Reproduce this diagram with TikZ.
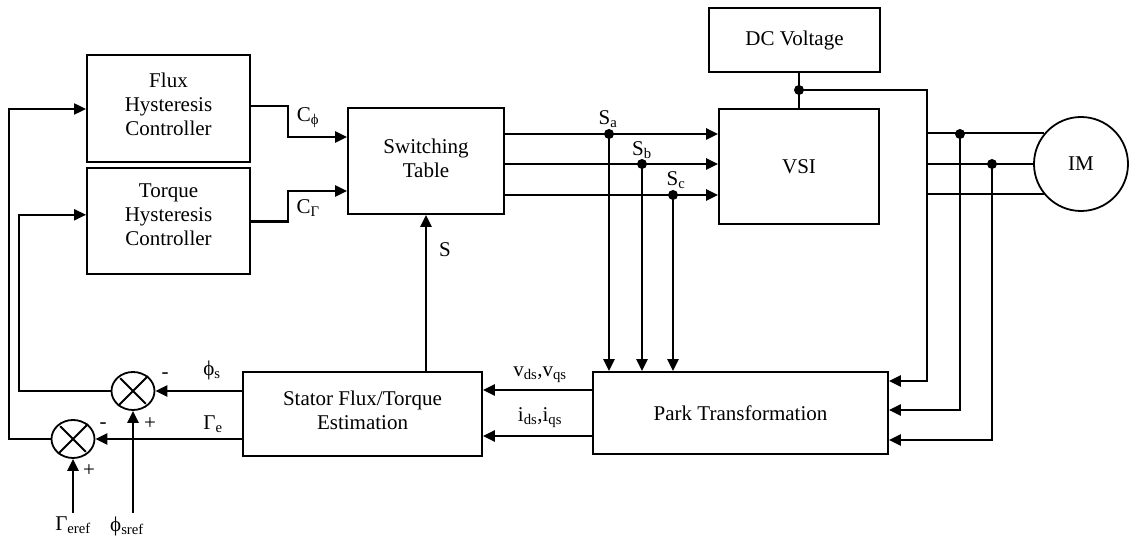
\documentclass[tikz,border=0pt]{standalone}
\usepackage{fontspec}
\setmainfont{Liberation Serif}
\usetikzlibrary{positioning,arrows.meta,shapes.geometric}
\tikzset{blockbox/.style={rectangle, draw, line width=1.8pt, align=center, inner sep=0pt}}
\tikzset{sumnode/.style={ellipse, draw, line width=1.8pt, minimum width=43pt,
  minimum height=38pt, inner sep=0pt}}
\tikzset{sig/.style={->, line width=2.8pt}}
\tikzset{wire/.style={line width=2pt}}
\tikzset{junc/.style={circle, fill, inner sep=0pt, minimum size=10pt}}

\begin{document}
\begin{tikzpicture}[x=1pt, y=1pt, >={Triangle[length=12pt,width=11pt]},
  font=\fontsize{21}{24}\selectfont, node distance=4pt]
  \useasboundingbox (0,0) rectangle (1130,540);
  % controllers and table
  \node[blockbox, minimum width=163pt, minimum height=107pt] (flux) at (168.5,431.5)
    {Flux\\ Hysteresis\\ Controller\\[-15pt]};
  \node[blockbox, minimum width=163pt, minimum height=106pt, below=4pt of flux] (torque)
    {Torque\\ Hysteresis\\ Controller\\[-12pt]};
  \node[blockbox, minimum width=156pt, minimum height=106pt] (sw) at (426,379)
    {Switching\\ Table\\[-18pt]};
  % power side
  \node[blockbox, minimum width=171pt, minimum height=64pt] (dc) at (794.5,500) {DC Voltage};
  \node[blockbox, minimum width=160pt, minimum height=115pt] (vsi) at (799,373.5) {VSI};
  \node[circle, draw, line width=1.8pt, minimum size=94pt, inner sep=0pt] (im) at (1081,376) {IM};
  % estimation
  \node[blockbox, minimum width=239pt, minimum height=84pt] (est) at (362.5,126)
    {Stator Flux/Torque\\ Estimation\\[-16pt]};
  \node[blockbox, minimum width=295pt, minimum height=82pt] (park) at (740.5,127)
    {Park Transformation};
  \node[sumnode] (sum1) at (133,149) {};
  \node[sumnode] (sum2) at (73,101) {};
  \foreach \s in {sum1,sum2}
    \draw[line width=1.8pt, shorten <=3pt, shorten >=3pt] (\s.45) -- (\s.225) (\s.135) -- (\s.315);

  \coordinate (sa) at (609,406);
  \coordinate (sb) at (642,376);
  \coordinate (sc) at (673,345);
  \coordinate (dcj) at (799,450);
  \coordinate (dcbus) at (927,450);
  \coordinate (pa) at (960,406);
  \coordinate (pb) at (992,376);
  \coordinate (phiref) at (133,27);
  \coordinate (gamref) at (73,27);

  % controller outputs
  \draw[sig] ([yshift=2.5pt]flux.east) -- ++(37pt,0) |- ([yshift=24pt]sw.west);
  \draw[sig] ([yshift=-1pt]torque.east) -- ++(37pt,0) |- ([yshift=-30pt]sw.west);
  \node at (308,422) {C\textsubscript{ϕ}};
  \node at (308,332) {C\textsubscript{Γ}};

  % switching signals
  \foreach \p in {sa,sb,sc} {
    \draw[sig] (sw.east |- \p) -- (vsi.west |- \p);
    \draw[sig] (\p) -- (\p |- park.north);
    \node[junc] at (\p) {};
  }
  \node at (608,421) {S\textsubscript{a}};
  \node at (642,390) {S\textsubscript{b}};
  \node at (676,360) {S\textsubscript{c}};
  \draw[sig] (est.north -| sw.south) -- (sw.south);
  \node at (445,290) {S};

  % dc link and motor phases
  \draw[wire] (vsi.north |- dc.south) -- (vsi.north);
  \node[junc] at (dcj) {};
  \draw[sig] (dcj) -- (dcbus) |- ([yshift=32pt]park.east);
  \draw[wire] (im.140.3 -| dcbus) -- (im.140.3);
  \draw[wire] (im.180 -| dcbus) -- (im.180);
  \draw[wire] (im.219.7 -| dcbus) -- (im.219.7);
  \draw[sig] (pa) |- ([yshift=3pt]park.east);
  \draw[sig] (pb) |- ([yshift=-27pt]park.east);
  \node[junc] at (pa) {};
  \node[junc] at (pb) {};

  % park to estimation
  \draw[sig] ([yshift=23pt]park.west) -- ([yshift=23pt]park.west -| est.east);
  \draw[sig] ([yshift=-23pt]park.west) -- ([yshift=-23pt]park.west -| est.east);
  \node at (540,165) {v\textsubscript{ds},v\textsubscript{qs}};
  \node at (540,122) {i\textsubscript{ds},i\textsubscript{qs}};

  % comparators and feedback
  \draw[sig] (est.west |- sum1) -- (sum1);
  \draw[sig] (est.west |- sum2) -- (sum2);
  \draw[wire,->] (sum1.west) -- (19,149) |- ([yshift=6pt]torque.west);
  \draw[wire,->] (sum2.west) -- (9,101) |- ([yshift=-0.5pt]flux.west);
  \draw[sig] (phiref) -- (sum1);
  \draw[sig] (gamref) -- (sum2);
  \node[below=0pt of phiref, xshift=-6pt] {ϕ\textsubscript{sref}};
  \node[below=0pt of gamref] {Γ\textsubscript{eref}};
  \node at (165,164) {-};
  \node at (150,116) {+};
  \node at (212,170) {ϕ\textsubscript{s}};
  \node at (213,116) {Γ\textsubscript{e}};
  \node at (103,114) {-};
  \node at (89,69) {+};
\end{tikzpicture}
\end{document}
